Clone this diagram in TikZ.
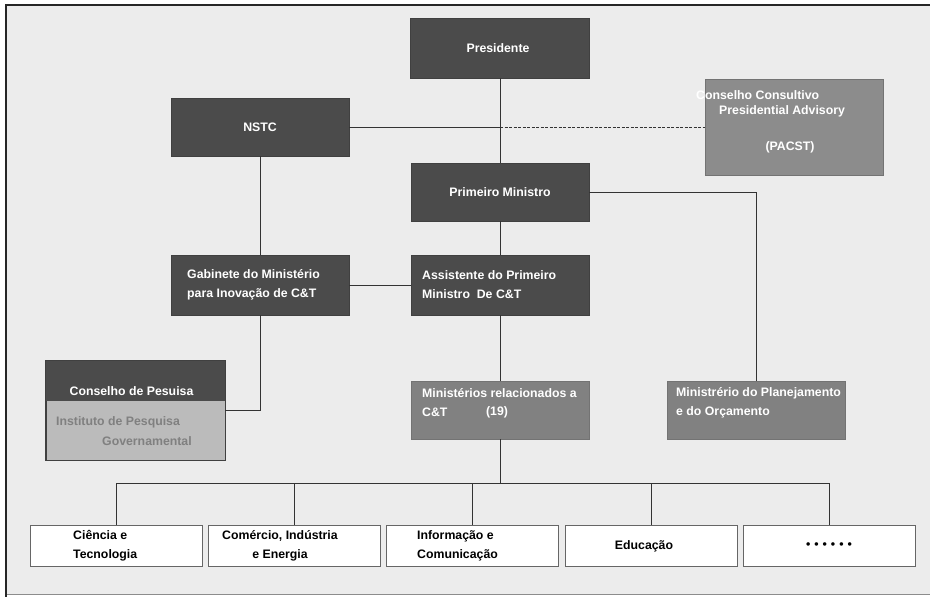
\documentclass[tikz,border=0pt]{standalone}
\usepackage{fontspec}
\setmainfont{Liberation Sans}
\begin{document}
\begin{tikzpicture}[x=1pt,y=-1pt,
  txt/.style={font=\fontsize{12.3}{19}\selectfont\bfseries, inner sep=0pt},
  darkbox/.style={draw=black!75, line width=0.6pt, fill=boxdark, inner sep=0pt},
  midbox/.style={draw=black!55, line width=0.6pt, fill=boxmid, inner sep=0pt},
  whitebox/.style={draw=black!60, line width=0.9pt, fill=white, inner sep=0pt,
                   minimum width=172, minimum height=41},
  wtxt/.style={txt, text=white, align=left},
  btxt/.style={txt, text=black, align=left},
  link/.style={draw=black!80, line width=1pt}
]
\definecolor{boxdark}{HTML}{4B4B4B}
\definecolor{boxmid}{HTML}{818181}
\definecolor{boxpac}{HTML}{8C8C8C}
\definecolor{boxlight}{HTML}{BBBBBB}
\definecolor{canvas}{HTML}{ECECEC}

% page and framed canvas
\useasboundingbox (0,0) rectangle (930,597);
\fill[white] (0,0) rectangle (930,597);
\fill[canvas] (6,5) rectangle (930,594);
\draw[black!45, line width=0.6pt] (6,594) -- (930,594);
\draw[black!85, line width=1.6pt] (6,597) -- (6,5) -- (930,5);

% boxes
\node[darkbox, minimum width=179, minimum height=60] (pres) at (500,48) {};
\node[darkbox, minimum width=178, minimum height=58] (nstc) at (260,127) {};
\node[midbox, fill=boxpac, minimum width=178, minimum height=96] (pacst) at (794,127) {};
\node[darkbox, minimum width=178, minimum height=58] (pm) at (500,192) {};
\node[darkbox, minimum width=178, minimum height=60] (gab) at (260,285) {};
\node[darkbox, minimum width=178, minimum height=60] (asst) at (500,285) {};
\node[midbox, minimum width=178, minimum height=58] (min) at (500,410) {};
\node[midbox, minimum width=178, minimum height=58] (plan) at (756,410) {};

% research council: dark header over a light lower part
\node[draw=black!75, line width=0.9pt, fill=boxlight, inner sep=0pt,
      minimum width=179, minimum height=99] (cons) at (135.5,410.5) {};
\fill[boxdark] (cons.north west) rectangle (225,401);
\draw[black!75, line width=0.9pt] (cons.north west) rectangle (cons.south east);

% ministries row
\node[whitebox] (b1) at (116,545.5) {};
\node[whitebox] (b2) at (294,545.5) {};
\node[whitebox] (b3) at (472.5,545.5) {};
\node[whitebox] (b4) at (651,545.5) {};
\node[whitebox] (b5) at (829,545.5) {};

% texts
\node[wtxt] (tpres) at (498,48) {Presidente};
\node[wtxt] (tnstc) at (260,127) {NSTC};
\node[wtxt, anchor=west] (tpac1) at (696,95) {Conselho Consultivo};
\node[wtxt, anchor=west] (tpac2) at (719,111) {Presidential Advisory};
\node[wtxt] (tpac3) at (790,147) {(PACST)};
\node[wtxt] (tpm) at (500,192) {Primeiro Ministro};
\node[wtxt, anchor=west] (tgab) at (187,285) {Gabinete do Ministério\\para Inovação de C\&T};
\node[wtxt, anchor=west] (tasst) at (422,285) {Assistente do Primeiro\\Ministro\ \ De C\&T};
\node[wtxt, anchor=west] (tmin) at (422,403) {Ministérios relacionados a\\C\&T};
\node[wtxt] (tmin19) at (497,412) {(19)};
\node[wtxt, anchor=west] (tplan) at (676,403) {Ministrério do Planejamento\\e do Orçamento};
\node[wtxt] (tcons) at (131.5,391) {Conselho de Pesuisa};
\node[txt, text=black!50, anchor=west] (tinst1) at (56,422) {Instituto de Pesquisa};
\node[txt, text=black!50, anchor=west] (tinst2) at (102,441) {Governamental};

\node[btxt, anchor=west] (tb1) at (73,546) {Ciência e\\Tecnologia};
\node[btxt, align=center] (tb2) at (280,546) {Comércio, Indústria\\e Energia};
\node[btxt, anchor=west] (tb3) at (417,546) {Informação e\\Comunicação};
\node[btxt] (tb4) at (644,546) {Educação};
\node[btxt] (tb5) at (829,546) {•\hspace{4pt}•\hspace{4pt}•\hspace{4pt}•\hspace{4pt}•\hspace{4pt}•};

% connectors
\coordinate (cross) at (pres.south |- nstc.east);
\coordinate (planbend) at (plan.north |- pm.east);
\coordinate (consbend) at (gab.south |- cons.east);
\coordinate (bus) at (500,483);

\draw[link] (pres.south) -- (pm.north);
\draw[link] (nstc.east) -- (cross);
\draw[link, dashed, dash pattern=on 3pt off 1.5pt, line width=0.8pt] (cross) -- (pacst.west);
\draw[link] (nstc.south) -- (gab.north);
\draw[link] (gab.east) -- (asst.west);
\draw[link] (pm.south) -- (asst.north);
\draw[link] (asst.south) -- (min.north);
\draw[link] (pm.east) -- (planbend) -- (plan.north);
\draw[link] (gab.south) -- (consbend) -- (cons.east);
\draw[link] (min.south) -- (bus);
\draw[link] (b1.north) |- (bus);
\draw[link] (b5.north) |- (bus);
\draw[link] (b2.north) -- (b2.north |- bus);
\draw[link] (b3.north) -- (b3.north |- bus);
\draw[link] (b4.north) -- (b4.north |- bus);
\end{tikzpicture}
\end{document}
